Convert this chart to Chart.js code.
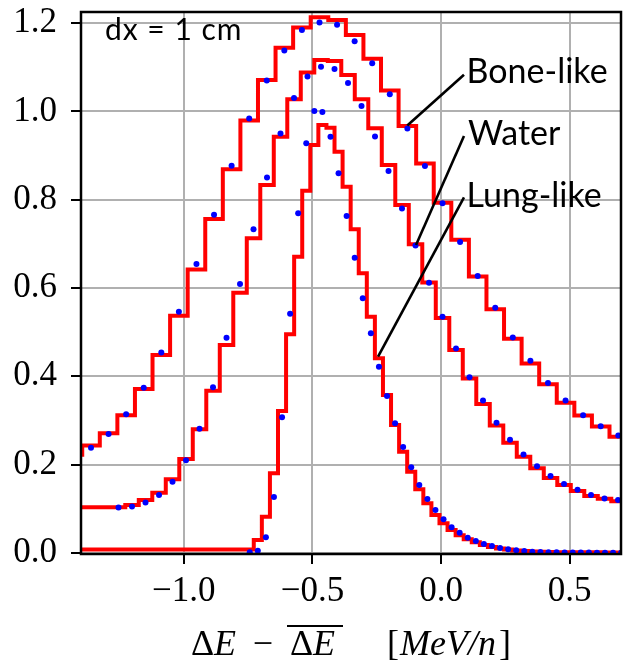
<!DOCTYPE html>
<html>
<head>
<meta charset="utf-8">
<script src="https://cdn.jsdelivr.net/npm/chart.js@4.4.1/dist/chart.umd.min.js"></script>
<style>
  html, body { margin: 0; padding: 0; background: #ffffff; }
  canvas { display: block; }
</style>
</head>
<body>
<canvas id="c" width="625" height="663"></canvas>
<script>
// ---------------- data ----------------
const xTicks = [-1.0, -0.5, 0.0, 0.5];
const yTicks = [0.0, 0.2, 0.4, 0.6, 0.8, 1.0, 1.2];

// Bone-like: histogram (bin left edge start, bin width) and model points at bin centres
const boneBinWidth = 0.06835;
const boneHistStart = -1.4636;
const boneHist = [0.222, 0.243, 0.271, 0.312, 0.371, 0.448, 0.537, 0.642, 0.756, 0.869,
  0.979, 1.071, 1.144, 1.190, 1.213, 1.207, 1.173, 1.119, 1.047, 0.967,
  0.882, 0.793, 0.709, 0.626, 0.552, 0.485, 0.429, 0.382, 0.340, 0.311,
  0.286, 0.263];
const boneDotStart = -1.3611;
const boneDots = [0.238, 0.269, 0.314, 0.374, 0.454, 0.546, 0.654, 0.766, 0.877, 0.984,
  1.070, 1.138, 1.184, 1.201, 1.196, 1.159, 1.109, 1.039, 0.961, 0.876,
  0.792, 0.704, 0.627, 0.555, 0.488, 0.435, 0.385, 0.345, 0.312, 0.287, 0.266];

// Water
const waterBinWidth = 0.0525;
const waterHistStart = -1.4378;
const waterHist = [0.1033, 0.1033, 0.1033, 0.1033, 0.1085, 0.1198, 0.1364, 0.1667, 0.2127, 0.2800,
  0.3674, 0.4709, 0.5894, 0.7126, 0.8333, 0.9427, 1.0274, 1.0877, 1.1164, 1.1141,
  1.0824, 1.0274, 0.9617, 0.8786, 0.7880, 0.6990, 0.6125, 0.5320, 0.4596, 0.3950,
  0.3370, 0.2885, 0.2496, 0.2179, 0.1916, 0.1697, 0.1538, 0.1400, 0.1290, 0.1225, 0.1170];
const waterDotStart = -1.2541;
const waterDots = [0.103, 0.105, 0.114, 0.131, 0.161, 0.210, 0.281, 0.375, 0.487, 0.609,
  0.733, 0.850, 0.950, 1.030, 1.079, 1.101, 1.096, 1.064, 1.012, 0.943,
  0.865, 0.780, 0.696, 0.612, 0.535, 0.463, 0.398, 0.345, 0.295, 0.256,
  0.223, 0.196, 0.174, 0.156, 0.143, 0.131, 0.123, 0.120];

// Lung-like
const lungBinWidth = 0.0314;
const lungHistStart = -1.4189;
const lungHist = [0.0077, 0.0077, 0.0077, 0.0077, 0.0077, 0.0077, 0.0077, 0.0077, 0.0077, 0.0077,
  0.0077, 0.0077, 0.0077, 0.0077, 0.0077, 0.0077, 0.0077, 0.0077, 0.0077, 0.0077,
  0.0077, 0.0077, 0.0292, 0.0820, 0.1803, 0.3214, 0.4951, 0.6709, 0.8204, 0.9239,
  0.9692, 0.9631, 0.9087, 0.8294, 0.7329, 0.6333, 0.5350, 0.4408, 0.3576, 0.2897,
  0.2292, 0.1839, 0.1440, 0.1123, 0.0858, 0.0670, 0.0519, 0.0400, 0.0310, 0.0240,
  0.0180, 0.0135, 0.0100, 0.0075, 0.0055, 0.0042, 0.0032, 0.0025, 0.0020, 0.0017,
  0.0015, 0.0014, 0.0013, 0.0012, 0.0012, 0.0011, 0.0011, 0.0010];
const lungDotStart = -0.7438;
const lungDots = [0.0014, 0.0050, 0.0353, 0.1266, 0.3071, 0.5418, 0.7692, 0.9277, 1.0009, 0.9986,
  0.9427, 0.8598, 0.7631, 0.6686, 0.5767, 0.4974, 0.4217, 0.3554, 0.2935, 0.2399,
  0.1939, 0.1538, 0.1221, 0.0972, 0.0761, 0.0580, 0.0458, 0.0344, 0.0270, 0.0202,
  0.0156, 0.0111, 0.0082, 0.0059, 0.0043, 0.0027, 0.0020, 0.0014, 0.0012, 0.0010,
  0.0009, 0.0008, 0.0007, 0.0006, 0.0006, 0.0005, 0.0005];

// Annotations: label text, label anchor (left, baseline), leader line start -> end
const labels = ['Bone-like', 'Water', 'Lung-like'];
const labelPos = [[0.0995, 1.0643], [0.1049, 0.9239], [0.0995, 0.7842]];
const leaderFrom = [[-0.131, 0.968], [-0.0971, 0.6974], [-0.2448, 0.4444]];
const leaderTo = [[0.0894, 1.083], [0.0894, 0.9443], [0.0894, 0.8054]];
const noteText = 'dx = 1 cm';
const notePos = [-1.307, 1.1617];

// ---------------- helpers ----------------
function histPoints(start, w, vals) {
  const pts = vals.map((v, i) => ({ x: start + i * w, y: v }));
  pts.push({ x: start + vals.length * w, y: vals[vals.length - 1] });
  return pts;
}
function dotPoints(start, w, vals) {
  return vals.map((v, i) => ({ x: start + i * w, y: v }));
}
function fmt(v) {
  const s = Number(v).toFixed(1);
  return s.replace('-', '\u2212');
}

const RED = '#ff0000', BLUE = '#0000ff';
function histDS(pts) {
  return { data: pts, stepped: 'before', borderColor: RED, borderWidth: 4, pointRadius: 0,
           fill: false, showLine: true, order: 1, borderJoinStyle: 'miter', tension: 0 };
}
function dotDS(pts) {
  return { data: pts, showLine: false, pointRadius: 3, pointBackgroundColor: BLUE,
           pointBorderWidth: 0, borderColor: BLUE, order: 0 };
}

const framePlugin = {
  id: 'frame',
  afterDatasetsDraw(chart) {
    const { ctx, chartArea: a, scales } = chart;
    const X = v => scales.x.getPixelForValue(v), Y = v => scales.y.getPixelForValue(v);
    ctx.save();
    // leader lines
    ctx.strokeStyle = '#000'; ctx.lineWidth = 2.6; ctx.lineCap = 'butt';
    for (let i = 0; i < labels.length; i++) {
      ctx.beginPath();
      ctx.moveTo(X(leaderFrom[i][0]), Y(leaderFrom[i][1]));
      ctx.lineTo(X(leaderTo[i][0]), Y(leaderTo[i][1]));
      ctx.stroke();
    }
    // labels
    ctx.fillStyle = '#000'; ctx.textBaseline = 'alphabetic'; ctx.textAlign = 'left';
    ctx.font = '34px Lato';
    for (let i = 0; i < labels.length; i++) {
      ctx.fillText(labels[i], X(labelPos[i][0]), Y(labelPos[i][1]));
    }
    ctx.font = '30px Lato';
    try { ctx.letterSpacing = '1px'; } catch (e) {}
    ctx.fillText(noteText, X(notePos[0]), Y(notePos[1]));
    try { ctx.letterSpacing = '0px'; } catch (e) {}
    // spines
    ctx.strokeStyle = '#000'; ctx.lineWidth = 2.5;
    ctx.strokeRect(a.left, a.top, a.right - a.left, a.bottom - a.top);
    ctx.restore();
  },
  afterDraw(chart) {
    const { ctx, chartArea: a } = chart;
    const cx = (a.left + a.right) / 2;
    const base = 655;
    ctx.save();
    ctx.fillStyle = '#000'; ctx.textBaseline = 'alphabetic'; ctx.textAlign = 'left';
    const up = '36px "Liberation Serif"', it = 'italic 36px "Liberation Serif"';
    // Delta E
    ctx.font = up; ctx.fillText('\u0394', cx - 160, base);
    ctx.font = it; ctx.fillText('E', cx - 137, base);
    // minus
    ctx.font = up; ctx.textAlign = 'center'; ctx.fillText('\u2212', cx - 88, base);
    ctx.textAlign = 'left';
    // overlined Delta E
    ctx.font = up; ctx.fillText('\u0394', cx - 61, base);
    ctx.font = it; ctx.fillText('E', cx - 38, base);
    ctx.strokeStyle = '#000'; ctx.lineWidth = 1.8;
    ctx.beginPath(); ctx.moveTo(cx - 64, base - 29); ctx.lineTo(cx - 8, base - 29); ctx.stroke();
    // [MeV/n]
    let x = cx + 36;
    ctx.font = up; ctx.fillText('[', x, base); x += ctx.measureText('[').width + 1;
    ctx.font = it; ctx.fillText('MeV/n', x, base); x += ctx.measureText('MeV/n').width + 3;
    ctx.font = up; ctx.fillText(']', x, base);
    ctx.restore();
  }
};

new Chart(document.getElementById('c'), {
  type: 'line',
  data: {
    datasets: [
      dotDS(dotPoints(boneDotStart, boneBinWidth, boneDots)),
      dotDS(dotPoints(waterDotStart, waterBinWidth, waterDots)),
      dotDS(dotPoints(lungDotStart, lungBinWidth, lungDots)),
      histDS(histPoints(boneHistStart, boneBinWidth, boneHist)),
      histDS(histPoints(waterHistStart, waterBinWidth, waterHist)),
      histDS(histPoints(lungHistStart, lungBinWidth, lungHist))
    ]
  },
  options: {
    responsive: false, animation: false, devicePixelRatio: 1,
    layout: { padding: { top: 12, right: 1, left: 0, bottom: 0 } },
    plugins: { legend: { display: false }, tooltip: { enabled: false } },
    scales: {
      x: {
        type: 'linear', min: -1.4, max: 0.7,
        afterBuildTicks: s => { s.ticks = xTicks.map(v => ({ value: v })); },
        afterFit: s => { s.height = 109; s.paddingLeft = 0; s.paddingRight = 0; },
        border: { display: false },
        grid: { color: '#b0b0b0', lineWidth: 2, tickColor: '#000', tickWidth: 2, tickLength: 10 },
        ticks: { color: '#000', font: { family: 'Liberation Serif', size: 35 }, padding: 7,
                 maxRotation: 0, autoSkip: false, callback: v => fmt(v) }
      },
      y: {
        type: 'linear', min: -0.0025, max: 1.225,
        afterBuildTicks: s => { s.ticks = yTicks.map(v => ({ value: v })); },
        afterFit: s => { s.width = 81; s.paddingTop = 0; s.paddingBottom = 0; },
        border: { display: false },
        grid: { color: '#b0b0b0', lineWidth: 2, tickColor: '#000', tickWidth: 2, tickLength: 10 },
        ticks: { color: '#000', font: { family: 'Liberation Serif', size: 35 }, padding: 14,
                 autoSkip: false, callback: v => fmt(v) }
      }
    }
  },
  plugins: [framePlugin]
});
</script>
</body>
</html>
